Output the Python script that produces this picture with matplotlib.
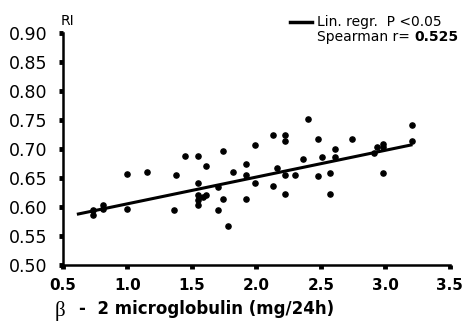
import matplotlib
matplotlib.use('Agg')
from matplotlib import pyplot as plt

# beta-2 microglobulin (mg/24h) vs RI
b2m = [0.73, 0.73, 0.81, 0.81, 1.0, 1.0, 1.15, 1.36, 1.38, 1.45,
       1.55, 1.55, 1.55, 1.55, 1.55, 1.59, 1.61, 1.61, 1.70, 1.70,
       1.74, 1.74, 1.78, 1.82, 1.92, 1.92, 1.92, 1.99, 1.99, 2.13,
       2.13, 2.16, 2.22, 2.22, 2.22, 2.22, 2.30, 2.36, 2.40, 2.48,
       2.48, 2.51, 2.57, 2.57, 2.61, 2.61, 2.74, 2.91, 2.94, 2.98,
       2.98, 2.98, 3.21, 3.21]
ri = [0.586, 0.595, 0.603, 0.596, 0.657, 0.596, 0.661, 0.595, 0.656, 0.688,
      0.688, 0.642, 0.621, 0.612, 0.603, 0.618, 0.621, 0.670, 0.634, 0.595,
      0.697, 0.613, 0.567, 0.661, 0.674, 0.655, 0.613, 0.707, 0.642, 0.724,
      0.636, 0.668, 0.724, 0.714, 0.655, 0.622, 0.655, 0.682, 0.752, 0.718,
      0.653, 0.687, 0.659, 0.622, 0.700, 0.686, 0.718, 0.693, 0.704, 0.709,
      0.703, 0.659, 0.741, 0.714]

# regression line end points
fit_x = [0.62, 3.20]
fit_y = [0.588, 0.707]

xticks = [0.5, 1.0, 1.5, 2.0, 2.5, 3.0, 3.5]
yticks = [0.50, 0.55, 0.60, 0.65, 0.70, 0.75, 0.80, 0.85, 0.90]

plt.rcParams['font.family'] = ['DejaVu Sans']

fig = plt.figure(figsize=(4.66, 3.29), dpi=100)
ax = fig.add_axes([0.135, 0.1945, 0.830, 0.705])

ax.scatter(b2m, ri, s=14, c='black', zorder=3)
ax.plot(fit_x, fit_y, c='black', lw=2.2, zorder=2)

ax.set_xlim(0.5, 3.5)
ax.set_ylim(0.50, 0.90)
ax.set_xticks(xticks)
ax.set_yticks(yticks)
ax.set_xticklabels(['%.1f' % v for v in xticks], fontsize=11, fontweight='bold')
ax.set_yticklabels(['%.2f' % v for v in yticks], fontsize=12.5)

for s in ['top', 'right']:
    ax.spines[s].set_visible(False)
for s in ['left', 'bottom']:
    ax.spines[s].set_linewidth(1.8)
ax.tick_params(axis='both', length=3, width=3.5)
ax.tick_params(axis='x', pad=6)
ax.tick_params(axis='y', pad=8)

fig.text(0.131, 0.925, 'RI', fontsize=10)

# legend
fig.lines.append(plt.Line2D([0.622, 0.670], [0.934, 0.934], transform=fig.transFigure,
                            c='black', lw=2.5))
fig.text(0.680, 0.934, 'Lin. regr.  P <0.05', fontsize=10, va='center')
t = fig.text(0.680, 0.887, 'Spearman r= ', fontsize=10, va='center')
fig.canvas.draw()
bb = t.get_window_extent().transformed(fig.transFigure.inverted())
fig.text(bb.x1, 0.887, '0.525', fontsize=10, va='center', fontweight='bold')

# x label
fig.text(0.117, 0.04, 'β', fontsize=15, family='Liberation Serif')
fig.text(0.170, 0.045, '-  2 microglobulin (mg/24h)', fontsize=12, fontweight='bold')

fig.savefig('out.png', dpi=100)
